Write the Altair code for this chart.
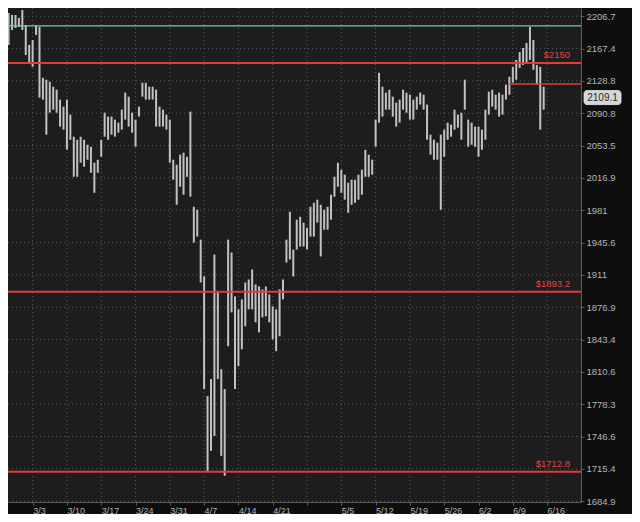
import altair as alt
import pandas as pd

# ---- data (half-day bars, day 0 = 3/3) ----
highs = [
    2223.1, 2220.6, 2210.7, 2208.3, 2208.3, 2204.6, 2214.4, 2196.0, 2171.8, 2177.8,
    2196.0, 2193.6, 2132.5, 2130.2, 2127.8, 2121.9, 2118.4, 2106.7, 2098.5, 2106.7,
    2089.2, 2063.7, 2060.2, 2063.7, 2060.2, 2054.5, 2052.2, 2034.0, 2037.4, 2060.2,
    2091.5, 2086.9, 2086.9, 2083.4, 2079.9, 2095.0, 2114.9, 2110.2, 2091.5, 2083.4,
    2098.5, 2126.6, 2126.6, 2121.9, 2121.9, 2118.4, 2098.5, 2095.0, 2089.2, 2083.4,
    2037.4, 2031.7, 2043.1, 2045.4, 2040.8, 2092.7, 1984.8, 1981.5, 1948.8, 1909.3,
    1786.3, 1803.3, 1932.7, 1892.4, 1813.3, 1793.3, 1948.8, 1934.9, 1888.2, 1874.7,
    1885.1, 1902.9, 1906.1, 1916.7, 1900.8, 1898.7, 1895.6, 1898.7, 1890.3, 1877.8,
    1874.7, 1895.6, 1906.1, 1948.8, 1979.3, 1938.1, 1970.5, 1973.8, 1967.3, 1961.8,
    1984.8, 1989.2, 1992.6, 1987.0, 1981.5, 1984.8, 1998.1, 2018.2, 2034.0, 2026.1,
    2020.5, 2011.5, 2014.9, 2014.9, 2020.5, 2026.1, 2048.8, 2043.1, 2037.4, 2083.4,
    2138.4, 2121.9, 2114.9, 2118.4, 2110.2, 2103.2, 2106.7, 2118.4, 2114.9, 2112.5,
    2106.7, 2110.2, 2114.9, 2112.5, 2100.9, 2066.0, 2060.2, 2056.8, 2066.0, 2071.8,
    2079.9, 2077.6, 2095.0, 2089.2, 2091.5, 2130.2, 2083.4, 2079.9, 2075.3, 2075.3,
    2071.8, 2095.0, 2116.0, 2118.4, 2112.5, 2114.9, 2112.5, 2124.3, 2133.7, 2145.5,
    2153.8, 2163.3, 2168.1, 2174.2, 2193.6, 2177.8, 2147.8, 2145.5, 2121.9,
]
lows = [
    2192.4, 2208.3, 2171.8, 2189.9, 2192.4, 2193.6, 2189.9, 2159.7, 2150.2, 2145.5,
    2183.9, 2109.0, 2106.7, 2066.0, 2091.5, 2095.0, 2091.5, 2075.3, 2071.8, 2048.8,
    2060.2, 2018.2, 2018.2, 2034.0, 2029.5, 2037.4, 2022.7, 2000.3, 2022.7, 2040.8,
    2063.7, 2060.2, 2066.0, 2063.7, 2068.3, 2071.8, 2083.4, 2075.3, 2068.3, 2052.2,
    2086.9, 2110.2, 2106.7, 2106.7, 2106.7, 2075.3, 2075.3, 2075.3, 2071.8, 2034.0,
    2014.9, 1987.0, 2007.0, 1998.1, 2018.2, 1995.9, 1945.6, 1952.1, 1902.9, 1793.3,
    1712.6, 1732.7, 1747.2, 1803.3, 1727.9, 1708.8, 1836.6, 1871.5, 1793.3, 1816.3,
    1833.5, 1857.1, 1874.7, 1874.7, 1861.2, 1850.9, 1866.4, 1867.4, 1861.2, 1843.7,
    1831.5, 1846.8, 1885.1, 1924.2, 1927.4, 1909.3, 1938.1, 1941.3, 1941.3, 1938.1,
    1952.1, 1952.1, 1967.3, 1930.6, 1959.6, 1959.6, 1970.5, 1995.9, 2007.0, 2000.3,
    1992.6, 1978.2, 1987.0, 1989.2, 1992.6, 1998.1, 2018.2, 2018.2, 2020.5, 2052.2,
    2079.9, 2086.9, 2095.0, 2095.0, 2086.9, 2075.3, 2079.9, 2095.0, 2091.5, 2083.4,
    2083.4, 2095.0, 2100.9, 2095.0, 2060.2, 2043.1, 2037.4, 2037.4, 1981.5, 2040.8,
    2060.2, 2063.7, 2071.8, 2074.1, 2060.2, 2095.0, 2052.2, 2054.5, 2052.2, 2040.8,
    2048.8, 2060.2, 2089.2, 2098.5, 2095.0, 2086.9, 2089.2, 2106.7, 2112.5, 2126.6,
    2130.2, 2144.3, 2147.8, 2150.2, 2153.8, 2142.0, 2124.3, 2071.8, 2095.0,
]
first_day = -4.5
bar_step = 0.5
days = [first_day + bar_step * i for i in range(len(highs))]

tick_days = [0, 5, 10, 15, 20, 25, 30, 35, 40, 45, 50, 55, 60, 65, 70, 75]
tick_labels = ["3/3", "3/10", "3/17", "3/24", "3/31", "4/7", "4/14", "4/21", "",
               "5/5", "5/12", "5/19", "5/26", "6/2", "6/9", "6/16"]
y_ticks = [1684.9, 1715.4, 1746.6, 1778.3, 1810.6, 1843.4, 1876.9, 1911,
           1945.6, 1981, 2016.9, 2053.5, 2090.8, 2128.8, 2167.4, 2206.7]

red_levels = [2150, 1893.2, 1712.8]
red_labels = ["$2150", "$1893.2", "$1712.8"]
green_level = 2195
short_level = 2125
short_from_day = 69.4
last_price = 2109.1

x_domain = [-3.59, 79.94]
y_domain = [1684.1, 2216.9]

# ---- tables ----
bars = pd.DataFrame({"day": days, "high": highs, "low": lows})
reds = pd.DataFrame({"level": red_levels, "label": red_labels})
short_df = pd.DataFrame({"level": [short_level], "d0": [short_from_day], "d1": [x_domain[1]]})
green_df = pd.DataFrame({"level": [green_level]})
price_df = pd.DataFrame({"price": [last_price], "label": [f"{last_price}"]})
xgrid_df = pd.DataFrame({"day": tick_days})
ygrid_df = pd.DataFrame({"level": y_ticks})
panel_df = pd.DataFrame({"k": [0]})

x_label_expr = " : ".join(
    f"datum.value == {d} ? '{l}'" for d, l in zip(tick_days, tick_labels)
) + " : ''"

xs = alt.Scale(domain=x_domain, nice=False, zero=False)
ys = alt.Scale(type="log", domain=y_domain, nice=False, zero=False)

x_axis = alt.Axis(values=tick_days, labelExpr=x_label_expr, labelAlign="left",
                  labelOffset=0, labelPadding=1, tickSize=3, title=None,
                  grid=False, labelFlush=False, zindex=2, labelFontSize=9)
y_axis = alt.Axis(orient="right", values=y_ticks,
                  labelExpr="datum.value % 1 == 0 ? format(datum.value, 'd') : format(datum.value, '.1f')",
                  tickSize=3, labelPadding=2, title=None, grid=False, zindex=2)

W, H = 573, 494

# dark side / bottom panels (styling only)
right_panel = alt.Chart(panel_df).mark_rect(fill="#0e0e0e").encode(
    x=alt.value(W), x2=alt.value(W + 60), y=alt.value(-10), y2=alt.value(H + 20)
)
bottom_panel = alt.Chart(panel_df).mark_rect(fill="#0e0e0e").encode(
    x=alt.value(-10), x2=alt.value(W + 60), y=alt.value(H), y2=alt.value(H + 20)
)

xgrid = alt.Chart(xgrid_df).mark_rule(color="#5a5a5a", strokeDash=[1, 3], strokeWidth=1).encode(
    x=alt.X("day:Q", scale=xs, axis=x_axis)
)
ygrid = alt.Chart(ygrid_df).mark_rule(color="#5a5a5a", strokeDash=[1, 3], strokeWidth=1).encode(
    y=alt.Y("level:Q", scale=ys, axis=y_axis)
)

bar_layer = alt.Chart(bars).mark_rule(color="#c2c2c2", strokeWidth=2.0, clip=True).encode(
    x=alt.X("day:Q", scale=xs, axis=x_axis),
    y=alt.Y("low:Q", scale=ys, axis=y_axis),
    y2="high:Q",
)

green_layer = alt.Chart(green_df).mark_rule(color="#72d39a", strokeWidth=1.2).encode(
    y=alt.Y("level:Q", scale=ys, axis=y_axis)
)

red_layer = alt.Chart(reds).mark_rule(color="#e23b3b", strokeWidth=2).encode(
    y=alt.Y("level:Q", scale=ys, axis=y_axis)
)

red_text = alt.Chart(reds).mark_text(
    color="#e04646", align="right", baseline="bottom", dy=-3,
    font="Liberation Sans", fontSize=9.5
).encode(
    x=alt.value(562),
    y=alt.Y("level:Q", scale=ys, axis=y_axis),
    text="label:N",
)

short_layer = alt.Chart(short_df).mark_rule(color="#e23b3b", strokeWidth=1.5).encode(
    x=alt.X("d0:Q", scale=xs, axis=x_axis),
    x2="d1:Q",
    y=alt.Y("level:Q", scale=ys, axis=y_axis),
)

price_box = alt.Chart(price_df).mark_rect(
    yOffset=-7, y2Offset=7, cornerRadius=3, fill="#d6d6d6", stroke="#efefef", strokeWidth=0.8
).encode(
    x=alt.value(576), x2=alt.value(613),
    y=alt.Y("price:Q", scale=ys, axis=y_axis), y2="price:Q",
)

price_text = alt.Chart(price_df).mark_text(
    color="#2a2a2a", font="Liberation Sans", fontSize=10, baseline="middle"
).encode(
    x=alt.value(594.5),
    y=alt.Y("price:Q", scale=ys, axis=y_axis),
    text="label:N",
)

chart = alt.layer(
    right_panel, bottom_panel, xgrid, ygrid, bar_layer,
    green_layer, red_layer, short_layer, red_text, price_box, price_text
).properties(
    width=W, height=H,
    background="#1d1d1d",
    padding={"left": 0, "top": 0, "right": 51, "bottom": 12},
    autosize=alt.AutoSizeParams(type="none"),
).configure_view(
    fill="#1d1d1d", stroke=None
).configure_axis(
    labelColor="#b4b4b4", labelFont="Liberation Sans", labelFontSize=9.5,
    tickColor="#5c5c5c", domainColor="#5c5c5c",
)

chart.save("out.html", embed_options={"renderer": "svg", "actions": False})
